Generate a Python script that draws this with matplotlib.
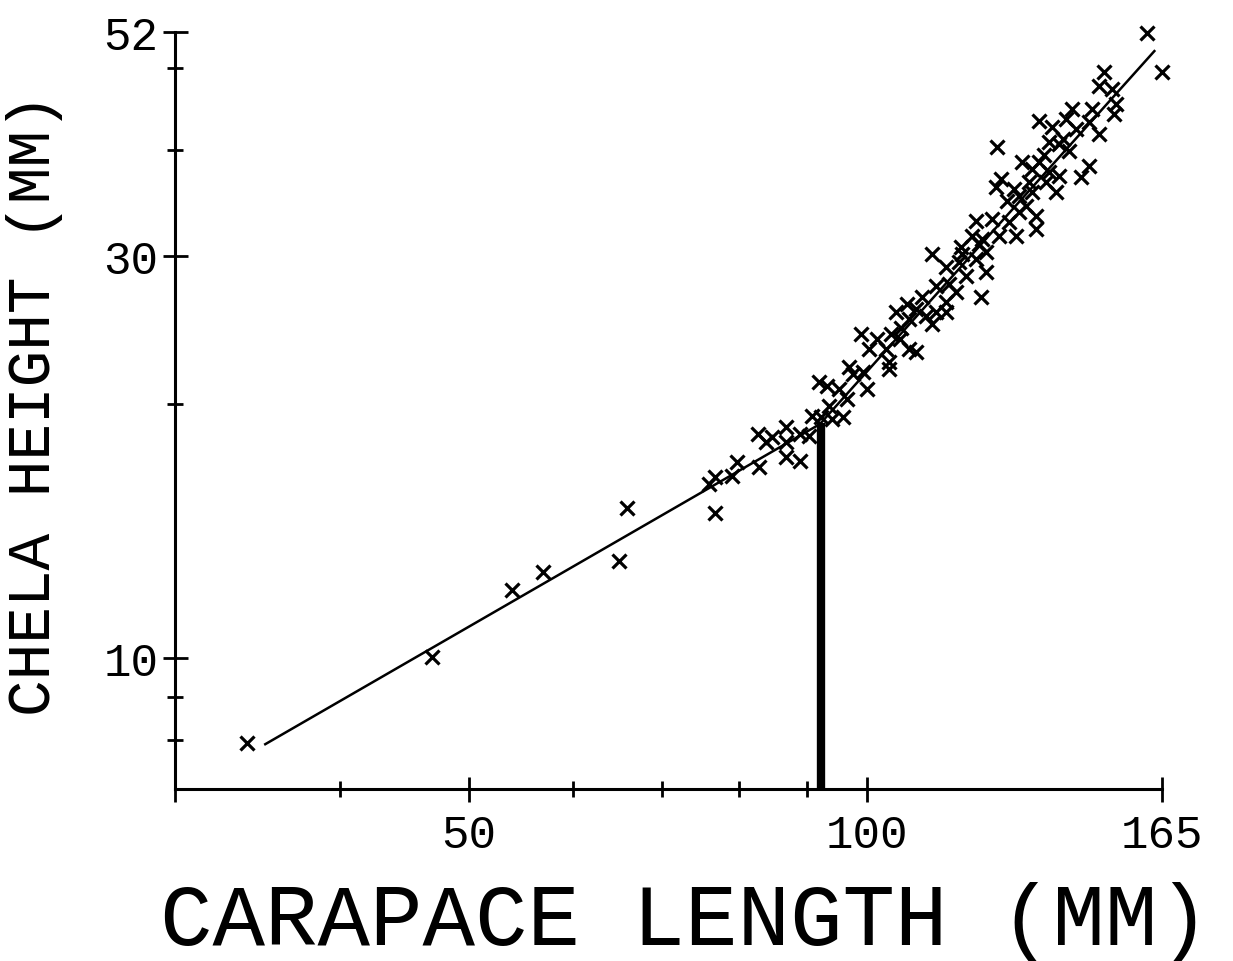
import numpy as np
import matplotlib.pyplot as plt
from matplotlib.ticker import FixedLocator, FixedFormatter, NullFormatter

# carapace length (mm) and chela height (mm) for each crab
carapace = [
    34.0, 46.9, 53.9, 56.9, 64.9, 65.8, 76.7, 76.0, 76.7, 79.0,
    79.8, 82.9, 82.7, 83.9, 84.8, 86.9, 86.9, 86.9, 88.9, 88.9,
    90.4, 90.9, 92.3, 94.1, 95.8, 93.6, 96.6, 92.0, 93.2, 95.3,
    99.9, 97.5, 96.9, 99.2, 103.9, 103.9, 100.4, 103.4, 107.6, 108.9,
    99.0, 101.8, 104.3, 105.8, 105.2, 107.2, 108.9, 110.8, 112.8, 114.7,
    112.0, 107.6, 112.0, 114.7, 117.4, 120.9, 118.8, 123.0, 112.8, 115.3,
    116.8, 122.0, 114.7, 117.8, 120.1, 123.0, 122.2, 125.8, 120.9, 124.3,
    128.0, 129.6, 134.2, 130.2, 131.9, 134.2, 130.2, 133.2, 138.9, 132.6,
    136.5, 126.3, 125.2, 125.4, 131.0, 133.2, 134.9, 137.3, 139.6, 137.3,
    139.6, 142.1, 147.1, 145.0, 134.9, 138.0, 141.4, 143.9, 147.1, 149.7,
    142.8, 147.9, 151.0, 149.7, 153.1, 154.2, 153.6, 162.7, 167.1,
    127.5, 129.0, 136.0, 140.5, 118.0, 121.5, 110.0, 106.0,
]
chela = [
    7.93, 10.03, 12.04, 12.65, 13.03, 15.06, 14.85, 16.08, 16.39, 16.43,
    17.08, 16.85, 18.44, 18.03, 18.28, 18.79, 18.03, 17.31, 17.12, 18.44,
    18.33, 19.36, 19.31, 19.20, 19.31, 19.90, 20.28, 21.24, 21.01, 20.84,
    20.84, 21.71, 22.13, 21.83, 22.01, 22.43, 23.25, 23.25, 23.25, 23.05,
    24.22, 23.88, 24.22, 23.88, 25.72, 26.29, 25.93, 25.44, 25.72, 25.72,
    24.89, 25.23, 30.12, 29.08, 29.48, 29.72, 28.37, 28.69, 27.61, 27.76,
    27.16, 26.79, 26.42, 30.70, 31.64, 30.28, 31.38, 31.64, 32.96, 33.14,
    32.87, 31.64, 32.25, 33.79, 34.34, 33.42, 35.30, 35.69, 35.69, 36.67,
    36.67, 36.97, 36.17, 40.34, 38.73, 38.00, 38.73, 37.68, 37.27, 40.90,
    40.68, 39.90, 38.31, 37.16, 43.31, 42.60, 43.54, 42.37, 43.19, 41.79,
    44.74, 44.74, 49.50, 47.64, 47.27, 45.37, 44.15, 55.0, 49.50,
    34.8, 36.0, 39.5, 41.2, 30.1, 31.0, 26.8, 24.6,
]

# fitted allometric lines below and above the moult break
juv_x = [35.1, 92.1]
juv_y = [7.91, 18.94]
adult_x = [92.1, 164.8]
adult_y = [18.94, 52.4]

# break point marker
break_x = 92.3
break_y = [7.0, 19.0]

x_lim = (30, 167)
y_lim = (7, 55.2)
x_major = [30, 50, 100, 167]
x_major_labels = ['', '50', '100', '165']
x_minor = [40, 60, 70, 80, 90]
y_major = [10, 30, 55.2]
y_major_labels = ['10', '30', '52']
y_minor = [8, 9, 20, 40, 50]

plt.rcParams['font.family'] = ['Liberation Mono', 'DejaVu Sans Mono']

fig = plt.figure(figsize=(12.33, 9.62), dpi=100)
W, H = 1233, 962
ax = fig.add_axes([175 / W, 1 - 790 / H, (1162 - 175) / W, (790 - 33) / H])
ax.set_xscale('log')
ax.set_yscale('log')
ax.set_xlim(*x_lim)
ax.set_ylim(*y_lim)

ax.plot(juv_x, juv_y, color='black', lw=1.8)
ax.plot(adult_x, adult_y, color='black', lw=1.8)
ax.plot([break_x, break_x], break_y, color='black', lw=6, solid_capstyle='butt')
ax.plot(carapace, chela, 'x', color='black', ms=10, mew=2.3, clip_on=False)

for side in ['top', 'right']:
    ax.spines[side].set_visible(False)
for side in ['left', 'bottom']:
    ax.spines[side].set_linewidth(2.2)

ax.xaxis.set_major_locator(FixedLocator(x_major))
ax.xaxis.set_major_formatter(FixedFormatter(x_major_labels))
ax.xaxis.set_minor_locator(FixedLocator(x_minor))
ax.xaxis.set_minor_formatter(NullFormatter())
ax.yaxis.set_major_locator(FixedLocator(y_major))
ax.yaxis.set_major_formatter(FixedFormatter(y_major_labels))
ax.yaxis.set_minor_locator(FixedLocator(y_minor))
ax.yaxis.set_minor_formatter(NullFormatter())

ax.tick_params(which='major', direction='inout', length=18, width=2, labelsize=33)
ax.tick_params(which='minor', direction='inout', length=12, width=2)
ax.tick_params(axis='x', which='major', pad=8)
ax.tick_params(axis='y', which='major', pad=3)

fig.text(685 / W, 1 - 923 / H, 'CARAPACE LENGTH (MM)', fontsize=63,
         ha='center', va='center')
fig.text(35 / W, 1 - 405 / H, 'CHELA HEIGHT (MM)', fontsize=44,
         rotation=90, ha='center', va='center')

fig.savefig('out.png', dpi=100, facecolor='white')
